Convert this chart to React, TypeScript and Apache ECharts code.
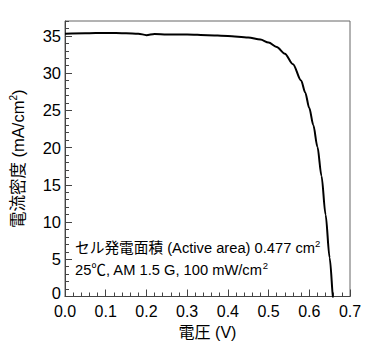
import React, { useEffect, useRef } from "react";
import * as echarts from "echarts";

const voltage = [0, 0.05, 0.1, 0.15, 0.18, 0.2, 0.22, 0.25, 0.3, 0.35, 0.4, 0.45, 0.48, 0.5, 0.52, 0.54, 0.56, 0.58, 0.59, 0.6, 0.61, 0.62, 0.63, 0.64, 0.65, 0.66, 0.67];
const currentDensity = [35.3, 35.35, 35.4, 35.35, 35.3, 35.1, 35.25, 35.2, 35.2, 35.1, 35.0, 34.8, 34.5, 34.1, 33.5, 32.6, 31.2, 29.0, 27.4, 25.3, 23.0, 20.1, 16.2, 11.0, 5.2, -1.0, -6.5];

const xName = "電圧 (V)";
const yNameMain = "電流密度 (mA/cm";
const noteLine1 = "セル発電面積 (Active area) 0.477 cm";
const noteLine2 = "25℃, AM 1.5 G, 100 mW/cm";
const sup = "2";

const FONT = "'Liberation Sans', Arial, 'Noto Sans CJK JP', sans-serif";
const AXIS_COLOR = "#444";

export default function App() {
  const ref = useRef<HTMLDivElement>(null);
  useEffect(() => {
    if (!ref.current) return;
    const chart = echarts.init(ref.current, null, { renderer: "svg" });
    const supRich = { fontSize: 9.5, fontFamily: FONT, fill: "#000", padding: [0, 0, 9, 0] };
    chart.setOption({
      animation: false,
      textStyle: { fontFamily: FONT },
      grid: { left: 65, right: 20, top: 21, bottom: 64.5, show: true, borderColor: "#666", borderWidth: 1, backgroundColor: "transparent" },
      xAxis: {
        type: "value",
        min: 0,
        max: 0.7,
        interval: 0.1,
        name: xName,
        nameLocation: "middle",
        nameGap: 26,
        nameTextStyle: { fontSize: 16, color: "#000", fontFamily: FONT },
        axisLine: { show: true, onZero: false, lineStyle: { color: AXIS_COLOR, width: 1 } },
        axisTick: { show: true, inside: true, length: 7, lineStyle: { color: AXIS_COLOR } },
        minorTick: { show: true, splitNumber: 5, length: 4, lineStyle: { color: AXIS_COLOR } },
        splitLine: { show: false },
        axisLabel: { fontSize: 16, color: "#000", margin: 7, fontFamily: FONT, formatter: (v: number) => v.toFixed(1) },
      },
      yAxis: [
        {
          type: "value",
          min: 0,
          max: 37,
          interval: 5,
          name: "{m|" + yNameMain + "}{s|" + sup + "}{m|)}",
          nameLocation: "middle",
          nameGap: 37,
          nameRotate: 90,
          nameTextStyle: {
            fontSize: 16.5,
            color: "#000",
            fontFamily: FONT,
            rich: {
              m: { fontSize: 16.5, fontFamily: FONT, color: "#000" },
              s: { fontSize: 10, fontFamily: FONT, color: "#000", padding: [0, 0, 10, 0] },
            },
          },
          axisLine: { show: true, lineStyle: { color: AXIS_COLOR, width: 1 } },
          axisTick: { show: true, inside: true, length: 7, lineStyle: { color: AXIS_COLOR } },
          splitLine: { show: false },
          axisLabel: {
            fontSize: 16.5,
            color: "#000",
            margin: 4,
            fontFamily: FONT,
            showMaxLabel: false,
            formatter: (v: number) => (v === 0 ? "{z|0}" : String(v)),
            rich: { z: { fontSize: 16.5, fontFamily: FONT, color: "#000", padding: [0, 0, 7, 0] } },
          },
        },
        {
          type: "value",
          min: 0,
          max: 37,
          interval: 1,
          position: "left",
          axisLine: { show: false },
          axisTick: { show: true, inside: true, length: 4, lineStyle: { color: AXIS_COLOR } },
          splitLine: { show: false },
          axisLabel: { show: false },
        },
      ],
      graphic: [
        {
          type: "text",
          left: 75,
          top: 239,
          style: {
            text: "{m|" + noteLine1 + "}{s|" + sup + "}",
            rich: { m: { fontSize: 14.7, fontFamily: FONT, fill: "#000" }, s: supRich },
          },
        },
        {
          type: "text",
          left: 75,
          top: 261,
          style: {
            text: "{m|" + noteLine2 + "}{s|" + sup + "}",
            rich: { m: { fontSize: 14.7, fontFamily: FONT, fill: "#000" }, s: supRich },
          },
        },
      ],
      series: [
        {
          type: "line",
          yAxisIndex: 0,
          data: voltage.map((v, i) => [v, currentDensity[i]]),
          showSymbol: false,
          smooth: 0.3,
          smoothMonotone: "x",
          clip: true,
          lineStyle: { color: "#000", width: 2 },
        },
      ],
    });
    return () => chart.dispose();
  }, []);
  return <div ref={ref} style={{ width: 370, height: 361, position: "absolute", left: 0, top: 0 }} />;
}
